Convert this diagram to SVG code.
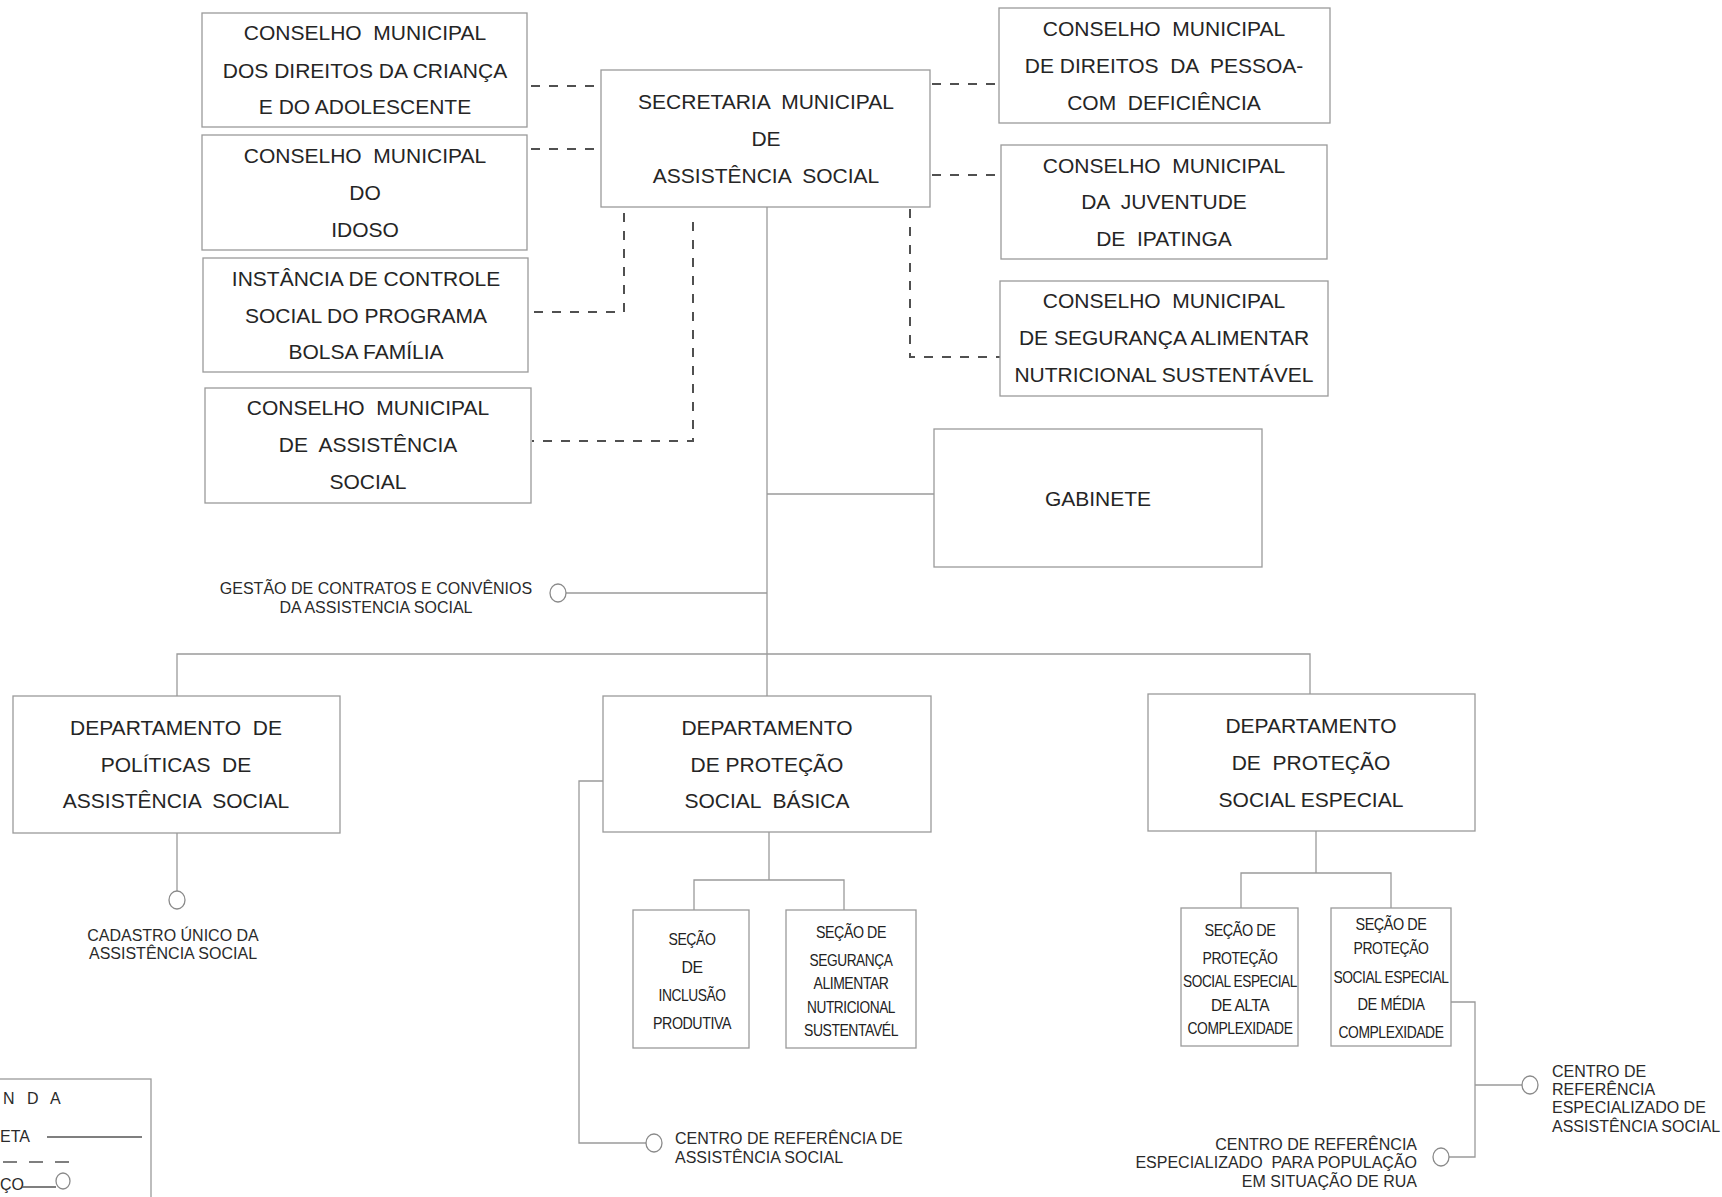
<svg xmlns="http://www.w3.org/2000/svg" width="1722" height="1197" viewBox="0 0 1722 1197">
<style>
  text { white-space: pre; }
  .box { fill: #ffffff; stroke: #9a9a9a; stroke-width: 1.3; }
  .t { font-family: "Liberation Sans", Arial, sans-serif; font-size: 21px; fill: #252525; text-anchor: middle; }
  .s { font-family: "Liberation Sans", Arial, sans-serif; font-size: 16.5px; fill: #222222; text-anchor: middle; letter-spacing: -0.5px; }
  .l { font-family: "Liberation Sans", Arial, sans-serif; font-size: 16px; fill: #2a2a2a; }
  .dash { fill: none; stroke: #505050; stroke-width: 2; stroke-dasharray: 9 9; }
  .solid { fill: none; stroke: #9a9a9a; stroke-width: 1.3; }
  .dot { fill: #ffffff; stroke: #8a8a8a; stroke-width: 1.3; }
</style>
<rect x="0" y="0" width="1722" height="1197" fill="#ffffff"/>

<g id="connectors">
  <path class="dash" d="M531 86 H600"/>
  <path class="dash" d="M531 149 H600"/>
  <path class="dash" d="M624 213 V312 H529"/>
  <path class="dash" d="M693 222 V441 H532"/>
  <path class="dash" d="M932 84 H999"/>
  <path class="dash" d="M932 175 H1001"/>
  <path class="dash" d="M910 209 V357 H1000"/>
  <path class="solid" d="M767 207 V696"/>
  <path class="solid" d="M767 494 H934"/>
  <path class="solid" d="M566 593 H767"/>
  <path class="solid" d="M177 696 V654 H1310 V694"/>
  <path class="solid" d="M177 833 V891"/>
  <path class="solid" d="M769 832 V880 M694 910 V880 H844 V910"/>
  <path class="solid" d="M603 781 H579 V1143 H646"/>
  <path class="solid" d="M1316 831 V873 M1241 908 V873 H1391 V908"/>
  <path class="solid" d="M1451 1002 H1475 V1157 H1449 M1475 1085 H1522"/>
</g>

<g id="secretaria">
  <rect class="box" x="601" y="70" width="329" height="137"/>
  <text class="t" x="766" y="109">SECRETARIA  MUNICIPAL</text>
  <text class="t" x="766" y="146">DE</text>
  <text class="t" x="766" y="183">ASSISTÊNCIA  SOCIAL</text>
</g>

<g id="cmdca">
  <rect class="box" x="202" y="13" width="325" height="114"/>
  <text class="t" x="365" y="40">CONSELHO  MUNICIPAL</text>
  <text class="t" x="365" y="78">DOS DIREITOS DA CRIANÇA</text>
  <text class="t" x="365" y="114">E DO ADOLESCENTE</text>
</g>

<g id="cm-idoso">
  <rect class="box" x="202" y="135" width="325" height="115"/>
  <text class="t" x="365" y="163">CONSELHO  MUNICIPAL</text>
  <text class="t" x="365" y="200">DO</text>
  <text class="t" x="365" y="237">IDOSO</text>
</g>

<g id="instancia-bolsa-familia">
  <rect class="box" x="203" y="258" width="325" height="114"/>
  <text class="t" x="366" y="286">INSTÂNCIA DE CONTROLE</text>
  <text class="t" x="366" y="323">SOCIAL DO PROGRAMA</text>
  <text class="t" x="366" y="359">BOLSA FAMÍLIA</text>
</g>

<g id="cmas">
  <rect class="box" x="205" y="388" width="326" height="115"/>
  <text class="t" x="368" y="415">CONSELHO  MUNICIPAL</text>
  <text class="t" x="368" y="452">DE  ASSISTÊNCIA</text>
  <text class="t" x="368" y="489">SOCIAL</text>
</g>

<g id="cm-pessoa-deficiencia">
  <rect class="box" x="999" y="8" width="331" height="115"/>
  <text class="t" x="1164" y="36">CONSELHO  MUNICIPAL</text>
  <text class="t" x="1164" y="73">DE DIREITOS  DA  PESSOA-</text>
  <text class="t" x="1164" y="110">COM  DEFICIÊNCIA</text>
</g>

<g id="cm-juventude">
  <rect class="box" x="1001" y="145" width="326" height="114"/>
  <text class="t" x="1164" y="173">CONSELHO  MUNICIPAL</text>
  <text class="t" x="1164" y="209">DA  JUVENTUDE</text>
  <text class="t" x="1164" y="246">DE  IPATINGA</text>
</g>

<g id="cm-seguranca-alimentar">
  <rect class="box" x="1000" y="281" width="328" height="115"/>
  <text class="t" x="1164" y="308">CONSELHO  MUNICIPAL</text>
  <text class="t" x="1164" y="345">DE SEGURANÇA ALIMENTAR</text>
  <text class="t" x="1164" y="382">NUTRICIONAL SUSTENTÁVEL</text>
</g>

<g id="gabinete">
  <rect class="box" x="934" y="429" width="328" height="138"/>
  <text class="t" x="1098" y="506">GABINETE</text>
</g>

<g id="gestao-contratos">
  <ellipse class="dot" cx="558" cy="593" rx="8" ry="9"/>
  <text class="l" x="376" y="594" text-anchor="middle">GESTÃO DE CONTRATOS E CONVÊNIOS</text>
  <text class="l" x="376" y="613" text-anchor="middle">DA ASSISTENCIA SOCIAL</text>
</g>

<g id="dept-politicas">
  <rect class="box" x="13" y="696" width="327" height="137"/>
  <text class="t" x="176" y="735">DEPARTAMENTO  DE</text>
  <text class="t" x="176" y="772">POLÍTICAS  DE</text>
  <text class="t" x="176" y="808">ASSISTÊNCIA  SOCIAL</text>
</g>

<g id="cadastro-unico">
  <ellipse class="dot" cx="177" cy="900" rx="8" ry="9"/>
  <text class="l" x="173" y="941" text-anchor="middle">CADASTRO ÚNICO DA</text>
  <text class="l" x="173" y="959" text-anchor="middle">ASSISTÊNCIA SOCIAL</text>
</g>

<g id="dept-basica">
  <rect class="box" x="603" y="696" width="328" height="136"/>
  <text class="t" x="767" y="735">DEPARTAMENTO</text>
  <text class="t" x="767" y="772">DE PROTEÇÃO</text>
  <text class="t" x="767" y="808">SOCIAL  BÁSICA</text>
</g>

<g id="secao-inclusao">
  <rect class="box" x="633" y="910" width="116" height="138"/>
  <text class="s" x="692" y="945" textLength="47" lengthAdjust="spacingAndGlyphs">SEÇÃO</text>
  <text class="s" x="692" y="973" textLength="21" lengthAdjust="spacingAndGlyphs">DE</text>
  <text class="s" x="692" y="1001" textLength="67" lengthAdjust="spacingAndGlyphs">INCLUSÃO</text>
  <text class="s" x="692" y="1029" textLength="78" lengthAdjust="spacingAndGlyphs">PRODUTIVA</text>
</g>

<g id="secao-seguranca">
  <rect class="box" x="786" y="910" width="130" height="138"/>
  <text class="s" x="851" y="938" textLength="70" lengthAdjust="spacingAndGlyphs">SEÇÃO DE</text>
  <text class="s" x="851" y="966" textLength="83" lengthAdjust="spacingAndGlyphs">SEGURANÇA</text>
  <text class="s" x="851" y="989" textLength="75" lengthAdjust="spacingAndGlyphs">ALIMENTAR</text>
  <text class="s" x="851" y="1013" textLength="88" lengthAdjust="spacingAndGlyphs">NUTRICIONAL</text>
  <text class="s" x="851" y="1036" textLength="94" lengthAdjust="spacingAndGlyphs">SUSTENTAVÉL</text>
</g>

<g id="cras">
  <ellipse class="dot" cx="654" cy="1143" rx="8" ry="9"/>
  <text class="l" x="675" y="1144">CENTRO DE REFERÊNCIA DE</text>
  <text class="l" x="675" y="1163">ASSISTÊNCIA SOCIAL</text>
</g>

<g id="dept-especial">
  <rect class="box" x="1148" y="694" width="327" height="137"/>
  <text class="t" x="1311" y="733">DEPARTAMENTO</text>
  <text class="t" x="1311" y="770">DE  PROTEÇÃO</text>
  <text class="t" x="1311" y="807">SOCIAL ESPECIAL</text>
</g>

<g id="secao-alta">
  <rect class="box" x="1181" y="908" width="117" height="138"/>
  <text class="s" x="1240" y="936" textLength="71" lengthAdjust="spacingAndGlyphs">SEÇÃO DE</text>
  <text class="s" x="1240" y="964" textLength="75" lengthAdjust="spacingAndGlyphs">PROTEÇÃO</text>
  <text class="s" x="1240" y="987" textLength="114" lengthAdjust="spacingAndGlyphs">SOCIAL ESPECIAL</text>
  <text class="s" x="1240" y="1011" textLength="58" lengthAdjust="spacingAndGlyphs">DE ALTA</text>
  <text class="s" x="1240" y="1034" textLength="105" lengthAdjust="spacingAndGlyphs">COMPLEXIDADE</text>
</g>

<g id="secao-media">
  <rect class="box" x="1331" y="908" width="120" height="138"/>
  <text class="s" x="1391" y="930" textLength="71" lengthAdjust="spacingAndGlyphs">SEÇÃO DE</text>
  <text class="s" x="1391" y="954" textLength="75" lengthAdjust="spacingAndGlyphs">PROTEÇÃO</text>
  <text class="s" x="1391" y="983" textLength="115" lengthAdjust="spacingAndGlyphs">SOCIAL ESPECIAL</text>
  <text class="s" x="1391" y="1010" textLength="67" lengthAdjust="spacingAndGlyphs">DE MÉDIA</text>
  <text class="s" x="1391" y="1038" textLength="105" lengthAdjust="spacingAndGlyphs">COMPLEXIDADE</text>
</g>

<g id="creas">
  <ellipse class="dot" cx="1530" cy="1085" rx="8" ry="9"/>
  <text class="l" x="1552" y="1077">CENTRO DE</text>
  <text class="l" x="1552" y="1095">REFERÊNCIA</text>
  <text class="l" x="1552" y="1113">ESPECIALIZADO DE</text>
  <text class="l" x="1552" y="1132">ASSISTÊNCIA SOCIAL</text>
</g>

<g id="centro-pop">
  <ellipse class="dot" cx="1441" cy="1157" rx="8" ry="9"/>
  <text class="l" x="1417" y="1150" text-anchor="end">CENTRO DE REFERÊNCIA</text>
  <text class="l" x="1417" y="1168" text-anchor="end">ESPECIALIZADO  PARA POPULAÇÃO</text>
  <text class="l" x="1417" y="1187" text-anchor="end">EM SITUAÇÃO DE RUA</text>
</g>

<g id="legenda">
  <rect class="box" x="-10" y="1079" width="161" height="140"/>
  <text class="l" x="3" y="1104" font-size="18" letter-spacing="4">N D A</text>
  <text class="l" x="0" y="1142" font-size="14">ETA</text>
  <line x1="47" y1="1137" x2="142" y2="1137" stroke="#555555" stroke-width="1.5"/>
  <line x1="1" y1="1162" x2="70" y2="1162" stroke="#555555" stroke-width="1.5" stroke-dasharray="14 12" stroke-dashoffset="-2"/>
  <text class="l" x="0" y="1190" font-size="14">ÇO</text>
  <line x1="22" y1="1187" x2="56" y2="1187" stroke="#555555" stroke-width="1.5"/>
  <ellipse class="dot" cx="63" cy="1181" rx="7" ry="8"/>
</g>
</svg>
